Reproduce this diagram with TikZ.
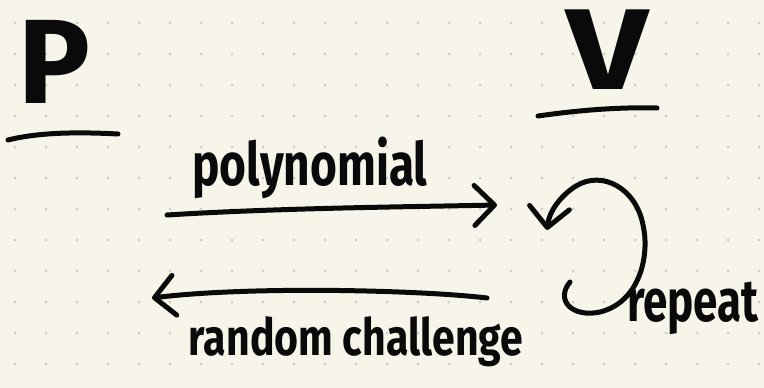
\documentclass[tikz,border=0pt]{standalone}
\usepackage{fontspec}
\setmainfont{Fira Sans}
\usetikzlibrary{arrows.meta}
\definecolor{paper}{RGB}{247,245,234}
\definecolor{dotc}{RGB}{205,205,200}
\definecolor{ink}{RGB}{10,10,10}
\tikzset{
  x=1pt,y=-1pt,
  pen/.style={draw=ink,line width=5pt,line cap=round,line join=round},
  arr/.style={pen,-{Straight Barb[round,length=20pt,width=40pt]}},
  hand/.style={text=ink,font=\bfseries,inner sep=0pt},
}
\begin{document}
\begin{tikzpicture}
\fill[paper] (0,0) rectangle (764,388);
\useasboundingbox (0,0) rectangle (764,388);
\foreach \i in {0,...,24}{\foreach \j in {0,...,11}{
  \fill[dotc] (15+31*\i,23+31*\j) circle (1.5);}}
% labels
\node[hand,font=\fontsize{120}{120}\selectfont\bfseries] (P) at (55,62) {P};
\node[hand,font=\fontsize{115}{115}\selectfont\bfseries,xscale=1.25] (V) at (607,50) {V};
\node[hand,font=\fontsize{46}{46}\selectfont\bfseries,yscale=1.3] (poly) at (310,168) {polynomial};
\node[hand,font=\fontsize{41}{41}\selectfont\bfseries,yscale=1.25] (chal) at (356,342) {random challenge};
\node[hand,font=\fontsize{44}{44}\selectfont\bfseries,yscale=1.35] (rep) at (693,308) {repeat};
% underlines
\coordinate (pu1) at (8,140); \coordinate (pu2) at (118,134);
\coordinate (vu1) at (538,116); \coordinate (vu2) at (657,108);
\draw[pen] (pu1) .. controls (40,132) and (80,132) .. (pu2);
\draw[pen] (vu1) .. controls (580,110) and (620,107) .. (vu2);
% arrows
\coordinate (ra1) at (167,215); \coordinate (ra2) at (497,205);
\draw[arr] (ra1) .. controls (280,208) and (400,207) .. (ra2);
\coordinate (la1) at (487,298); \coordinate (la2) at (152,298);
\draw[arr] (la1) .. controls (420,290) and (250,286) .. (la2);
% loop
\coordinate (lp1) at (570,282); \coordinate (lp2) at (547,230);
\draw[arr] (lp1) .. controls (555,300) and (572,318) .. (600,312)
  .. controls (640,302) and (650,255) .. (643,225)
  .. controls (636,188) and (602,170) .. (576,186)
  .. controls (560,196) and (549,212) .. (lp2);
\end{tikzpicture}
\end{document}
